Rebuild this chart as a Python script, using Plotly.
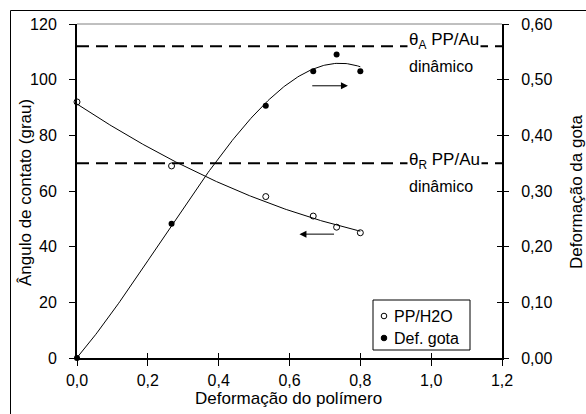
import numpy as np
import plotly.graph_objects as go

# ---- data ----
def_polimero = [0.0, 0.267, 0.533, 0.667, 0.733, 0.80]
angulo_pp_h2o = [92, 69, 58, 51, 47, 45]
def_gota = [0.0, 0.241, 0.453, 0.515, 0.545, 0.515]
theta_a = 112
theta_r = 70
x_ticks = [0.0, 0.2, 0.4, 0.6, 0.8, 1.0, 1.2]

# trendlines (polynomial fits of the read data)
xs = np.linspace(0, max(def_polimero), 200)
fit_ang = np.polyval(np.polyfit(def_polimero, angulo_pp_h2o, 2), xs)
fit_def = np.polyval(np.polyfit(def_polimero, def_gota, 3), xs)

W, H = 586, 414
# plot area in page pixels: x 77..502, y 24..358
PL, PR, PT, PB = 77, 502, 24, 358
L, R, T, B = PL, W - PR, PT, H - PB
pw, ph = PR - PL, PB - PT

def px(xp):  # page pixel -> paper x
    return (xp - PL) / pw

def py(yp):  # page pixel -> paper y
    return (PB - yp) / ph

FONT = "Liberation Sans, Arial, sans-serif"
FS = 16

fig = go.Figure()
fig.add_trace(go.Scatter(x=xs, y=fit_ang, mode="lines", line=dict(color="black", width=1),
                         showlegend=False, hoverinfo="skip"))
fig.add_trace(go.Scatter(x=xs, y=fit_def, mode="lines", line=dict(color="black", width=1),
                         showlegend=False, hoverinfo="skip", yaxis="y2"))
fig.add_trace(go.Scatter(x=def_polimero, y=angulo_pp_h2o, mode="markers", name="PP/H2O",
                         marker=dict(symbol="circle-open", size=6, color="black", line=dict(width=1)),
                         cliponaxis=False, showlegend=False))
fig.add_trace(go.Scatter(x=def_polimero, y=def_gota, mode="markers", name="Def. gota",
                         marker=dict(symbol="circle", size=6, color="black"),
                         cliponaxis=False, yaxis="y2", showlegend=False))
# empty traces to carry the inner-tick axes
fig.add_trace(go.Scatter(x=[], y=[], xaxis="x2", yaxis="y", showlegend=False))
fig.add_trace(go.Scatter(x=[], y=[], xaxis="x", yaxis="y3", showlegend=False))

shapes = []
for yv in (theta_a, theta_r):
    shapes.append(dict(type="line", xref="x", yref="y", x0=0, x1=1.2, y0=yv, y1=yv,
                       line=dict(color="black", width=2, dash="12px,7px"), layer="below"))
# grey top border of plot area
shapes.append(dict(type="line", xref="paper", yref="paper", x0=0, x1=1, y0=1, y1=1,
                   line=dict(color="#808080", width=1)))
# outer frame (left/top edges visible)
shapes.append(dict(type="line", xref="paper", yref="paper", x0=px(10.5), x1=px(10.5),
                   y0=py(414), y1=py(10.5), line=dict(color="black", width=1)))
shapes.append(dict(type="line", xref="paper", yref="paper", x0=px(10.5), x1=px(586),
                   y0=py(10.5), y1=py(10.5), line=dict(color="black", width=1)))
# legend box and glyphs
shapes.append(dict(type="rect", xref="paper", yref="paper", x0=px(373), x1=px(470),
                   y0=py(350), y1=py(300), line=dict(color="black", width=1), fillcolor="white"))
r = 2.8
shapes.append(dict(type="circle", xref="paper", yref="paper", x0=px(384 - r), x1=px(384 + r),
                   y0=py(316 + r), y1=py(316 - r), line=dict(color="black", width=1),
                   fillcolor="white"))
shapes.append(dict(type="circle", xref="paper", yref="paper", x0=px(384 - r), x1=px(384 + r),
                   y0=py(338 + r), y1=py(338 - r), line=dict(color="black", width=1),
                   fillcolor="black"))

ann = []
tfont = dict(family=FONT, size=FS, color="black")
afont = dict(family=FONT, size=17, color="black")
for yv, sub, ytxt, ydin in ((theta_a, "A", 41, 67), (theta_r, "R", 161, 186)):
    ann.append(dict(xref="paper", yref="paper", x=px(444), y=py(ytxt), showarrow=False,
                    text="θ<sub>" + sub + "</sub> PP/Au", font=afont, bgcolor="white",
                    xanchor="center", yanchor="middle", borderpad=1))
    ann.append(dict(xref="paper", yref="paper", x=px(441), y=py(ydin), showarrow=False,
                    text="dinâmico", font=tfont, xanchor="center", yanchor="middle"))

# legend texts
ann.append(dict(xref="paper", yref="paper", x=px(392), y=py(316), showarrow=False,
                text="PP/H2O", font=tfont, xanchor="left", yanchor="middle"))
ann.append(dict(xref="paper", yref="paper", x=px(392), y=py(338), showarrow=False,
                text="Def. gota", font=tfont, xanchor="left", yanchor="middle"))

# arrows
ann.append(dict(xref="x", yref="y2", axref="x", ayref="y2", x=0.765, y=0.489, ax=0.66, ay=0.489,
                showarrow=True, arrowhead=2, arrowsize=1.4, arrowwidth=1, arrowcolor="black", text=""))
ann.append(dict(xref="x", yref="y", axref="x", ayref="y", x=0.628, y=44.5, ax=0.73, ay=44.5,
                showarrow=True, arrowhead=2, arrowsize=1.4, arrowwidth=1, arrowcolor="black", text=""))

# axis titles
ann.append(dict(xref="paper", yref="paper", x=px(26), y=py(193), showarrow=False, textangle=-90,
                text="Ângulo de contato (grau)", font=afont, xanchor="center", yanchor="middle"))
ann.append(dict(xref="paper", yref="paper", x=px(576), y=py(192), showarrow=False, textangle=-90,
                text="Deformação da gota", font=afont, xanchor="center", yanchor="middle"))
ann.append(dict(xref="paper", yref="paper", x=px(288), y=py(398), showarrow=False,
                text="Deformação do polímero", font=afont, xanchor="center", yanchor="middle"))

common = dict(showgrid=False, zeroline=False, tickcolor="black", tickwidth=1)
fig.update_layout(
    width=W, height=H, margin=dict(l=L, r=R, t=T, b=B, autoexpand=False),
    paper_bgcolor="white", plot_bgcolor="white",
    separators=",.",
    font=dict(family=FONT, size=FS, color="black"),
    shapes=shapes, annotations=ann, showlegend=False,
    xaxis=dict(range=[0, 1.2], tickvals=x_ticks, tickformat=".1f", showline=True,
               linecolor="black", linewidth=2, ticks="outside", ticklen=6,
               ticklabelstandoff=1, **common),
    xaxis2=dict(range=[0, 1.2], tickvals=x_ticks, overlaying="x", anchor="y", side="bottom",
                showline=False, ticks="inside", ticklen=5, showticklabels=False, **common),
    yaxis=dict(range=[0, 120], dtick=20, showline=True, linecolor="black", linewidth=2,
               ticks="outside", ticklen=6, ticklabelstandoff=9, **common),
    yaxis2=dict(range=[0, 0.6], dtick=0.1, tickformat=".2f", overlaying="y", side="right",
                showline=True, linecolor="black", linewidth=2, ticks="outside", ticklen=5,
                ticklabelstandoff=9, **common),
    yaxis3=dict(range=[0, 0.6], dtick=0.1, overlaying="y", side="right", showline=False,
                ticks="inside", ticklen=5, showticklabels=False, **common),
)
fig.write_html("out.html", config={"displayModeBar": False},
               post_script="document.body.style.margin='0';document.body.style.overflow='hidden';")
